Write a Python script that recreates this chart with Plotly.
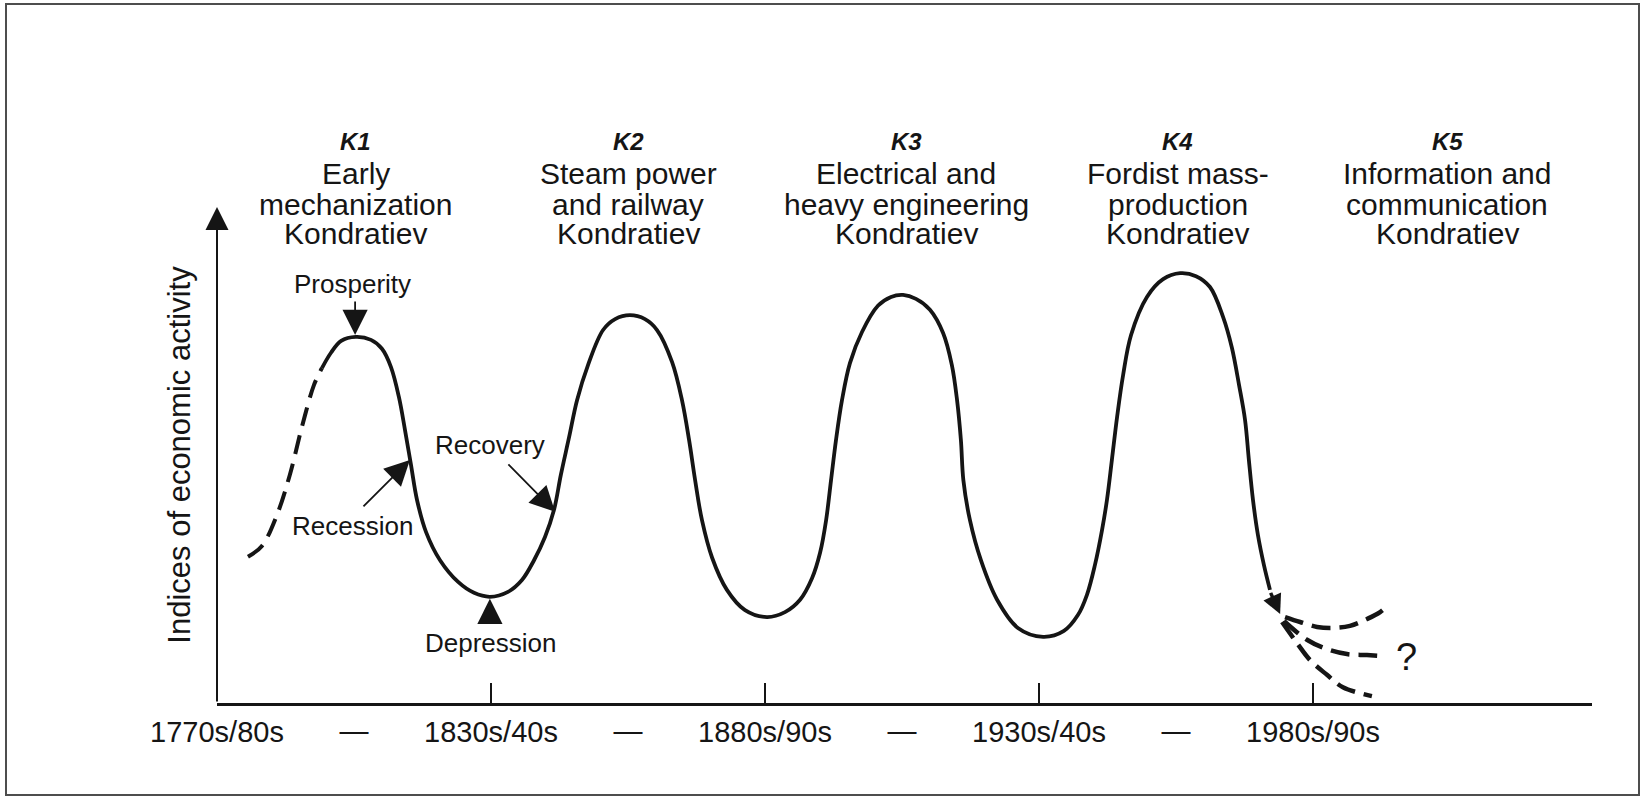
import plotly.graph_objects as go

# ---------------- data (x: period index, 0 = 1770s/80s ... 4 = 1980s/90s; y: index of activity) ----
period_ticks = [0, 1, 2, 3, 4]
period_labels = ["1770s/80s", "1830s/40s", "1880s/90s", "1930s/40s", "1980s/90s"]
dash_ticks = [0.5, 1.5, 2.5, 3.5]
dash_labels = ["—", "—", "—", "—"]

# early (uncertain) part of K1, dashed
k1_dash_x = [0.113, 0.164, 0.219, 0.266, 0.310, 0.354, 0.383]
k1_dash_y = [29.6, 31.8, 38.1, 46.2, 55.9, 64.4, 67.8]

# main long-wave curve, solid
wave_x = [0.383, 0.416, 0.453, 0.507, 0.562, 0.602, 0.635, 0.664, 0.686, 0.708, 0.730, 0.763,
          0.814, 0.880, 0.938, 0.996, 1.062, 1.113,
          1.157, 1.197, 1.230, 1.255, 1.285, 1.314, 1.354, 1.409, 1.453, 1.507, 1.562, 1.606,
          1.661, 1.697, 1.723, 1.745, 1.770, 1.807, 1.861, 1.927, 2.007, 2.073, 2.128,
          2.172, 2.201, 2.223, 2.241, 2.259, 2.281, 2.310, 2.354, 2.412, 2.460, 2.504, 2.551, 2.602,
          2.650, 2.682, 2.701, 2.715, 2.724, 2.748, 2.788, 2.847, 2.923, 3.015, 3.091, 3.142,
          3.175, 3.204, 3.230, 3.248, 3.266, 3.285, 3.307, 3.336, 3.394, 3.453, 3.515, 3.573, 3.624,
          3.672, 3.704, 3.730, 3.752, 3.766, 3.781, 3.799, 3.821, 3.843]
wave_y = [67.8, 70.9, 73.3, 74.1, 73.5, 71.7, 68.0, 61.9, 55.3, 48.2, 41.1, 34.6,
          28.9, 24.5, 22.3, 21.5, 22.5, 24.9,
          28.9, 33.6, 39.1, 46.2, 53.8, 61.3, 68.4, 75.5, 77.7, 78.5, 77.7, 75.5,
          69.0, 61.3, 53.2, 45.1, 37.0, 29.4, 22.9, 18.8, 17.4, 18.4, 20.9,
          25.3, 30.4, 37.0, 45.1, 53.2, 61.3, 68.8, 75.1, 80.4, 82.2, 82.6, 81.8, 79.6,
          74.9, 68.4, 61.3, 53.2, 45.1, 37.0, 28.9, 20.9, 15.2, 13.4, 14.6, 17.8,
          21.9, 27.9, 35.0, 41.1, 49.2, 57.9, 66.4, 74.5, 82.2, 85.8, 87.0, 86.4, 84.2,
          78.1, 71.9, 64.4, 57.3, 49.2, 41.1, 34.0, 27.9, 22.9]

# K5 scenarios, dashed
k5_up_x = [3.898, 3.953, 4.015, 4.073, 4.135, 4.197, 4.245, 4.274]
k5_up_y = [17.4, 16.4, 15.4, 15.2, 15.6, 17.0, 18.4, 19.8]
k5_mid_x = [3.894, 3.978, 4.051, 4.124, 4.197, 4.255]
k5_mid_y = [16.6, 12.8, 10.9, 9.9, 9.7, 9.5]
k5_low_x = [3.887, 3.942, 3.989, 4.051, 4.109, 4.215]
k5_low_y = [16.4, 12.1, 8.7, 5.7, 3.2, 1.4]

wave_names = ["K1", "K2", "K3", "K4", "K5"]
wave_x_pos = [0.507, 1.5, 2.515, 3.507, 4.49]
wave_lines = [
    ["Early", "mechanization", "Kondratiev"],
    ["Steam power", "and railway", "Kondratiev"],
    ["Electrical and", "heavy engineering", "Kondratiev"],
    ["Fordist mass-", "production", "Kondratiev"],
    ["Information and", "communication", "Kondratiev"],
]

# phase labels: text, label position, arrow tail, arrow tip
phase_text = ["Prosperity", "Recession", "Recovery", "Depression"]
phase_lab_x = [0.496, 0.496, 0.996, 1.0]
phase_lab_y = [84.8, 35.8, 52.2, 12.1]
phase_tail_x = [0.504, 0.529, 1.058, 0.996]
phase_tail_y = [81.6, 39.5, 48.6, 16.0]
phase_tip_x = [0.504, 0.704, 1.234, 0.996]
phase_tip_y = [74.5, 49.2, 38.7, 21.1]

# ---------------- figure ----------------
INK = "#151515"
FONT = "Liberation Sans, Arial, sans-serif"

fig = go.Figure()
fig.add_trace(go.Scatter(x=k1_dash_x, y=k1_dash_y, mode="lines",
                         line=dict(color=INK, width=4, dash="19px,10px", shape="spline"),
                         hoverinfo="skip", showlegend=False))
fig.add_trace(go.Scatter(x=wave_x, y=wave_y, mode="lines",
                         line=dict(color=INK, width=3.8, shape="spline", smoothing=1.0),
                         hoverinfo="skip", showlegend=False))
for bx, by in [(k5_up_x, k5_up_y), (k5_mid_x, k5_mid_y), (k5_low_x, k5_low_y)]:
    fig.add_trace(go.Scatter(x=bx, y=by, mode="lines",
                             line=dict(color=INK, width=4.5, dash="19px,9px", shape="spline"),
                             hoverinfo="skip", showlegend=False))
# carrier trace so the secondary (dash-label) x axis is drawn
fig.add_trace(go.Scatter(x=dash_ticks, y=[None] * len(dash_ticks), xaxis="x2", yaxis="y",
                         mode="markers", hoverinfo="skip", showlegend=False))

ann = []
# y axis with arrow
ann.append(dict(x=0, y=100.4, ax=0, ay=0, xref="x", yref="y", axref="x", ayref="y",
                text="", showarrow=True, arrowhead=2, arrowsize=2.3, arrowwidth=2,
                arrowcolor=INK))
# arrow at end of K4 decline
ann.append(dict(x=3.880, y=18.0, ax=3.843, ay=22.6, xref="x", yref="y", axref="x", ayref="y",
                text="", showarrow=True, arrowhead=2, arrowsize=1.1, arrowwidth=3.5,
                arrowcolor=INK))
# phase labels with arrows
for t, lx, ly, tx, ty, hx, hy in zip(phase_text, phase_lab_x, phase_lab_y,
                                     phase_tail_x, phase_tail_y, phase_tip_x, phase_tip_y):
    ann.append(dict(x=lx, y=ly, xref="x", yref="y", text=t, showarrow=False,
                    xanchor="center", yanchor="middle",
                    font=dict(family=FONT, size=26, color=INK)))
    ann.append(dict(x=hx, y=hy, ax=tx, ay=ty, xref="x", yref="y", axref="x", ayref="y",
                    text="", showarrow=True, arrowhead=2, arrowsize=2.8, arrowwidth=1.8,
                    arrowcolor=INK))
# question mark
ann.append(dict(x=4.343, y=9.3, xref="x", yref="y", text="?", showarrow=False,
                xanchor="center", yanchor="middle",
                font=dict(family=FONT, size=38, color=INK)))

# wave headers (paper y)
head_y = [1.133, 1.067, 1.006, 0.946]
for name, hx, lines in zip(wave_names, wave_x_pos, wave_lines):
    ann.append(dict(x=hx, y=head_y[0], xref="x", yref="paper", text=name, showarrow=False,
                    xanchor="center", yanchor="middle",
                    font=dict(family=FONT, size=24, color=INK, weight="bold", style="italic")))
    for ln, yy in zip(lines, head_y[1:]):
        ann.append(dict(x=hx, y=yy, xref="x", yref="paper", text=ln, showarrow=False,
                        xanchor="center", yanchor="middle",
                        font=dict(family=FONT, size=30, color=INK)))

# outer frame
shapes = [dict(type="rect", xref="paper", yref="paper",
               x0=(6 - 217) / 1375, x1=(1639 - 217) / 1375,
               y0=(703 - 795) / 496, y1=(703 - 4) / 496,
               line=dict(color="#4d4d4d", width=2), fillcolor="rgba(0,0,0,0)")]

fig.update_layout(
    width=1642, height=797,
    margin=dict(l=217, r=50, t=207, b=94, autoexpand=False),
    paper_bgcolor="white", plot_bgcolor="white",
    showlegend=False,
    annotations=ann, shapes=shapes,
    xaxis=dict(range=[0, 1375 / 274], tickvals=period_ticks, ticktext=period_labels,
               ticks="inside", ticklen=20, tickwidth=1.6, tickcolor=INK,
               showline=True, linewidth=2.5, linecolor=INK,
               showgrid=False, zeroline=False, ticklabelstandoff=1,
               tickfont=dict(family=FONT, size=29, color=INK), fixedrange=True),
    xaxis2=dict(range=[0, 1375 / 274], overlaying="x", anchor="y", side="bottom",
                tickvals=dash_ticks, ticktext=dash_labels, ticks="",
                showline=False, showgrid=False, zeroline=False, ticklabelstandoff=8,
                tickfont=dict(family=FONT, size=29, color=INK), fixedrange=True),
    yaxis=dict(range=[0, 100.4], showline=False, showgrid=False, zeroline=False,
               ticks="", showticklabels=False, fixedrange=True,
               title=dict(text="Indices of economic activity", standoff=16,
                          font=dict(family=FONT, size=31, color=INK))),
)

fig.write_html("out.html", config={"displayModeBar": False},
               post_script="document.body.style.margin='0px';document.body.style.overflow='hidden';")
